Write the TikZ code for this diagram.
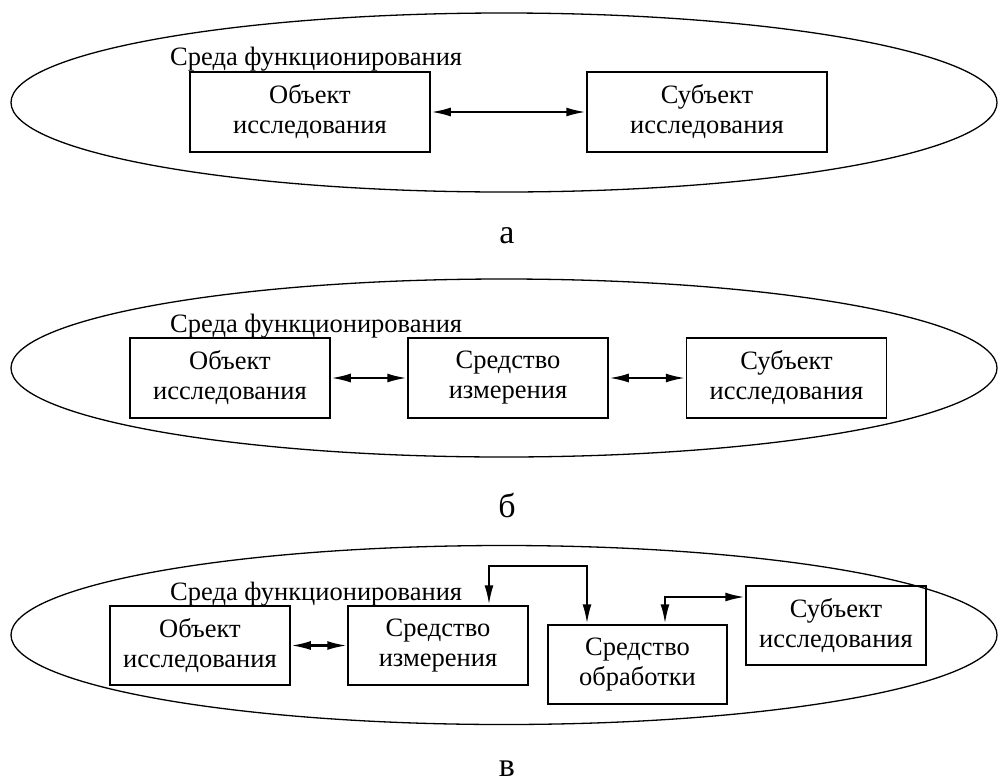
\documentclass[tikz,border=0pt]{standalone}
\usepackage{fontspec}
\setmainfont{Liberation Serif}
\usetikzlibrary{arrows.meta}
\begin{document}
\begin{tikzpicture}[x=1pt,y=-1pt]
			\tikzstyle{Block} = [rectangle, draw, line width=1.5pt, minimum height=80, inner sep=0pt, align=center, font=\fontsize{26.5}{30}\selectfont]
			\tikzstyle{Env} = [anchor=base west, inner sep=0pt, font=\fontsize{26.5}{30}\selectfont]
			\tikzstyle{Caption} = [anchor=base, inner sep=0pt, font=\fontsize{34}{38}\selectfont]
			\tikzstyle{Link} = [line width=2.5pt, >={Latex[length=20pt,width=9pt]}, <->]
			\useasboundingbox (0,0) rectangle (998,782);
			% a
			\draw [line width=1.3pt] (504,102.5) ellipse (493 and 89.5);
			\node (ea) at (170,65) [Env] {Среда функционирования};
			\node (a1) at (310,112) [Block, minimum width=240] {Объект\\исследования};
			\node (a2) at (707,112) [Block, minimum width=240] {Субъект\\исследования};
			\draw [Link] (a1) to (a2);
			\node (la) at (507,243) [Caption] {а};
			% b
			\draw [line width=1.3pt] (504,368) ellipse (493 and 89);
			\node (eb) at (170,332) [Env] {Среда функционирования};
			\node (b1) at (230,378) [Block, minimum width=200] {Объект\\исследования};
			\node (b2) at (508,378) [Block, minimum width=200] {Средство\\измерения};
			\node (b3) at (786.5,378) [Block, minimum width=200] {Субъект\\исследования};
			\draw [Link] (b1) to (b2);
			\draw [Link] (b2) to (b3);
			\node (lb) at (507,517) [Caption] {б};
			% v
			\draw [line width=1.3pt] (504,635) ellipse (493 and 89.5);
			\node (ec) at (170,600) [Env] {Среда функционирования};
			\node (c1) at (200,645.5) [Block, minimum width=180, minimum height=79] {Объект\\исследования};
			\node (c2) at (438,645.5) [Block, minimum width=180, minimum height=79] {Средство\\измерения};
			\node (c3) at (637.5,664.5) [Block, minimum width=179, minimum height=79] {Средство\\обработки};
			\node (c4) at (836,625.5) [Block, minimum width=180, minimum height=79] {Субъект\\исследования};
			\coordinate (t1) at (489,566);
			\coordinate (t2) at (587,566);
			\coordinate (t3) at (665,597);
			\draw [Link] (c1) to (c2);
			\draw [Link] (t1 |- c2.north) -- (t1) -- (t2) -- (t2 |- c3.north);
			\draw [Link] (t3 |- c3.north) -- (t3) -- (t3 -| c4.west);
			\node (lc) at (507,776) [Caption] {в};
		\end{tikzpicture}
\end{document}
